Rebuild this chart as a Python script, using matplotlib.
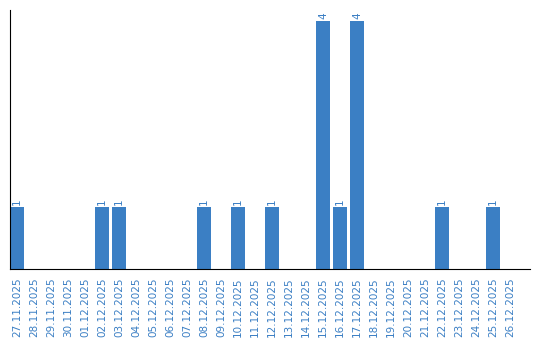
import matplotlib
matplotlib.use("Agg")
import matplotlib.pyplot as plt
import numpy as np

dates = ["27.11.2025", "28.11.2025", "29.11.2025", "30.11.2025", "01.12.2025",
         "02.12.2025", "03.12.2025", "04.12.2025", "05.12.2025", "06.12.2025",
         "07.12.2025", "08.12.2025", "09.12.2025", "10.12.2025", "11.12.2025",
         "12.12.2025", "13.12.2025", "14.12.2025", "15.12.2025", "16.12.2025",
         "17.12.2025", "18.12.2025", "19.12.2025", "20.12.2025", "21.12.2025",
         "22.12.2025", "23.12.2025", "24.12.2025", "25.12.2025", "26.12.2025"]
counts = [1, 0, 0, 0, 0, 1, 1, 0, 0, 0, 0, 1, 0, 1, 0,
          1, 0, 0, 4, 1, 4, 0, 0, 0, 0, 1, 0, 0, 1, 0]

blue = "#3b7fc4"

fig = plt.figure(figsize=(5.4, 3.4), dpi=100)
ax = fig.add_axes([10/540, 71/340, 520/540, 259/340])

x = np.arange(len(dates))
ax.bar(x, counts, width=0.82, color=blue)

# labels on top of non-empty bars
for xi, v in zip(x, counts):
    if v > 0:
        ax.text(xi, v + 0.03, str(v), rotation=90, ha="center", va="bottom",
                color=blue, fontsize=7.5)

ax.set_xlim(-0.41, 30.18)
ax.set_ylim(0, 4.18)
ax.set_xticks(x)
ax.set_xticklabels(dates, rotation=90, fontsize=7.5, color=blue)
ax.tick_params(axis="x", length=0, pad=6)
ax.set_yticks([])
ax.spines["top"].set_visible(False)
ax.spines["right"].set_visible(False)

fig.savefig("out.png", dpi=100)
